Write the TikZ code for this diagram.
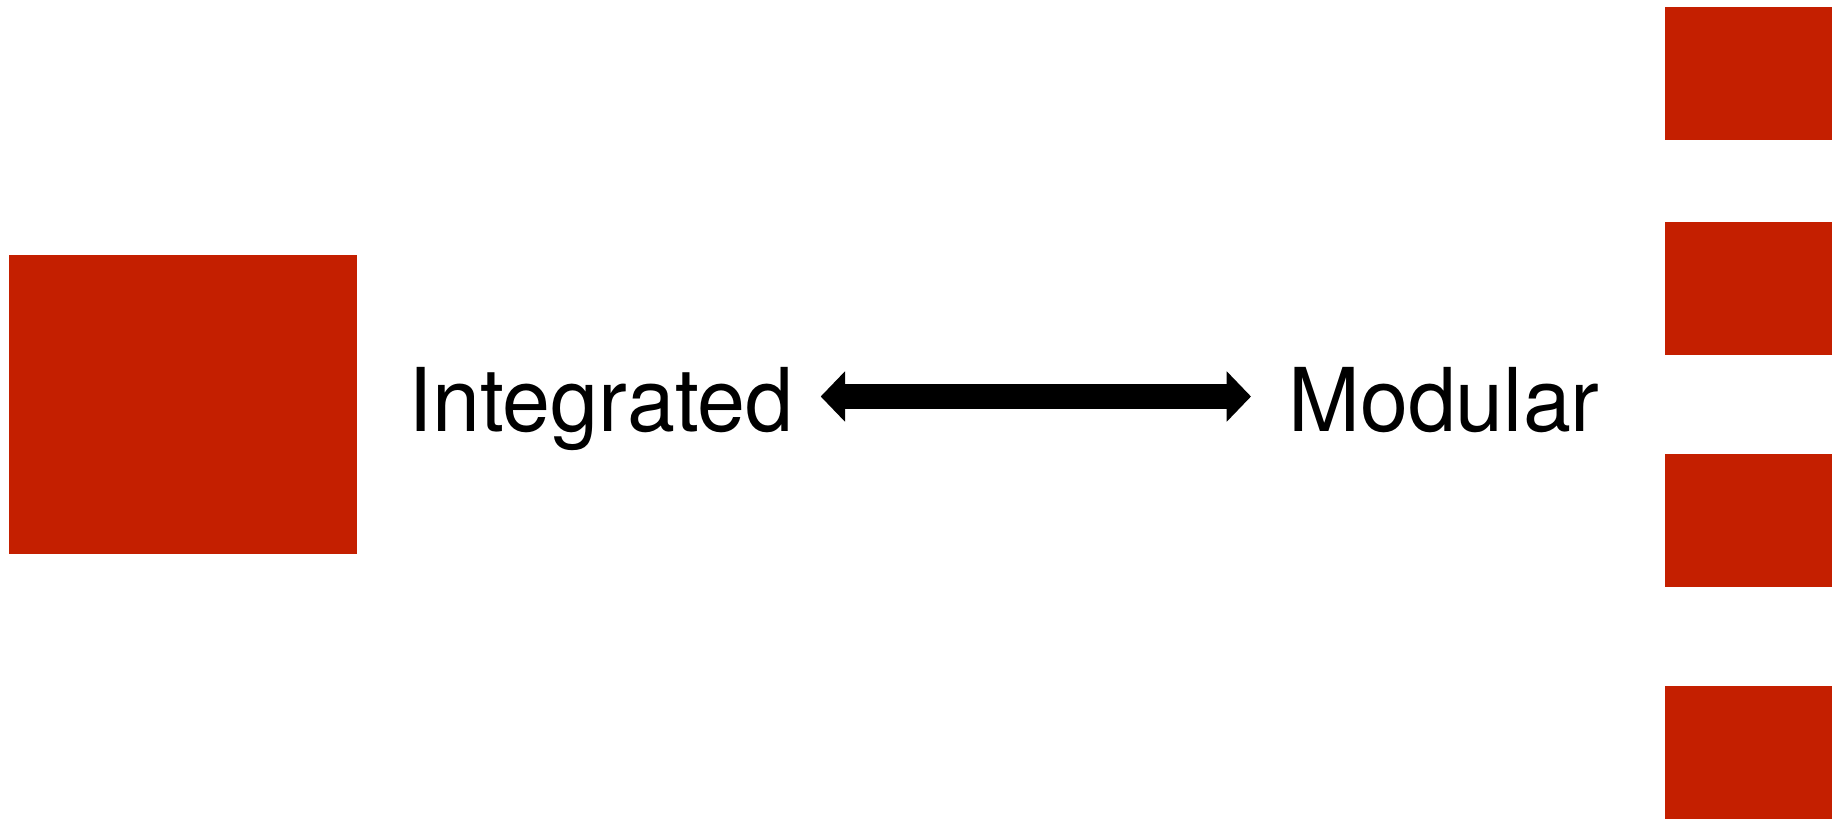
\documentclass[tikz,border=0pt]{standalone}
\usepackage{fontspec}
\setmainfont{TeX Gyre Heros}
\usetikzlibrary{arrows.meta}
\definecolor{blockred}{RGB}{196,31,0}
\tikzset{
  block/.style={fill=blockred, draw=none},
  label/.style={inner sep=0pt, anchor=base west, font=\fontsize{88}{100}\selectfont},
  spectrum/.style={line width=25pt,
    {Triangle[length=24.3pt, width=49pt]}-{Triangle[length=24.3pt, width=49pt]}}
}
\begin{document}
\begin{tikzpicture}[x=1pt, y=-1pt]
  \useasboundingbox (0,0) rectangle (1832,819);
  % one large block
  \fill[block] (9,255) rectangle (357,554);
  % four small blocks
  \fill[block] (1665,7)   rectangle (1832,140);
  \fill[block] (1665,222) rectangle (1832,355);
  \fill[block] (1665,454) rectangle (1832,587);
  \fill[block] (1665,686) rectangle (1832,819);
  % labels
  \node[label] (int) at (408,431) {\scalebox{0.98}[1]{Integrated}};
  \node[label] (mod) at (1288,431) {\scalebox{0.98}[1]{Modular}};
  % double-headed arrow between the two labels
  \coordinate (lefttip) at (820.7,396.5);
  \coordinate (righttip) at (1251,396.5);
  \draw[spectrum] (lefttip) -- (righttip);
\end{tikzpicture}
\end{document}
